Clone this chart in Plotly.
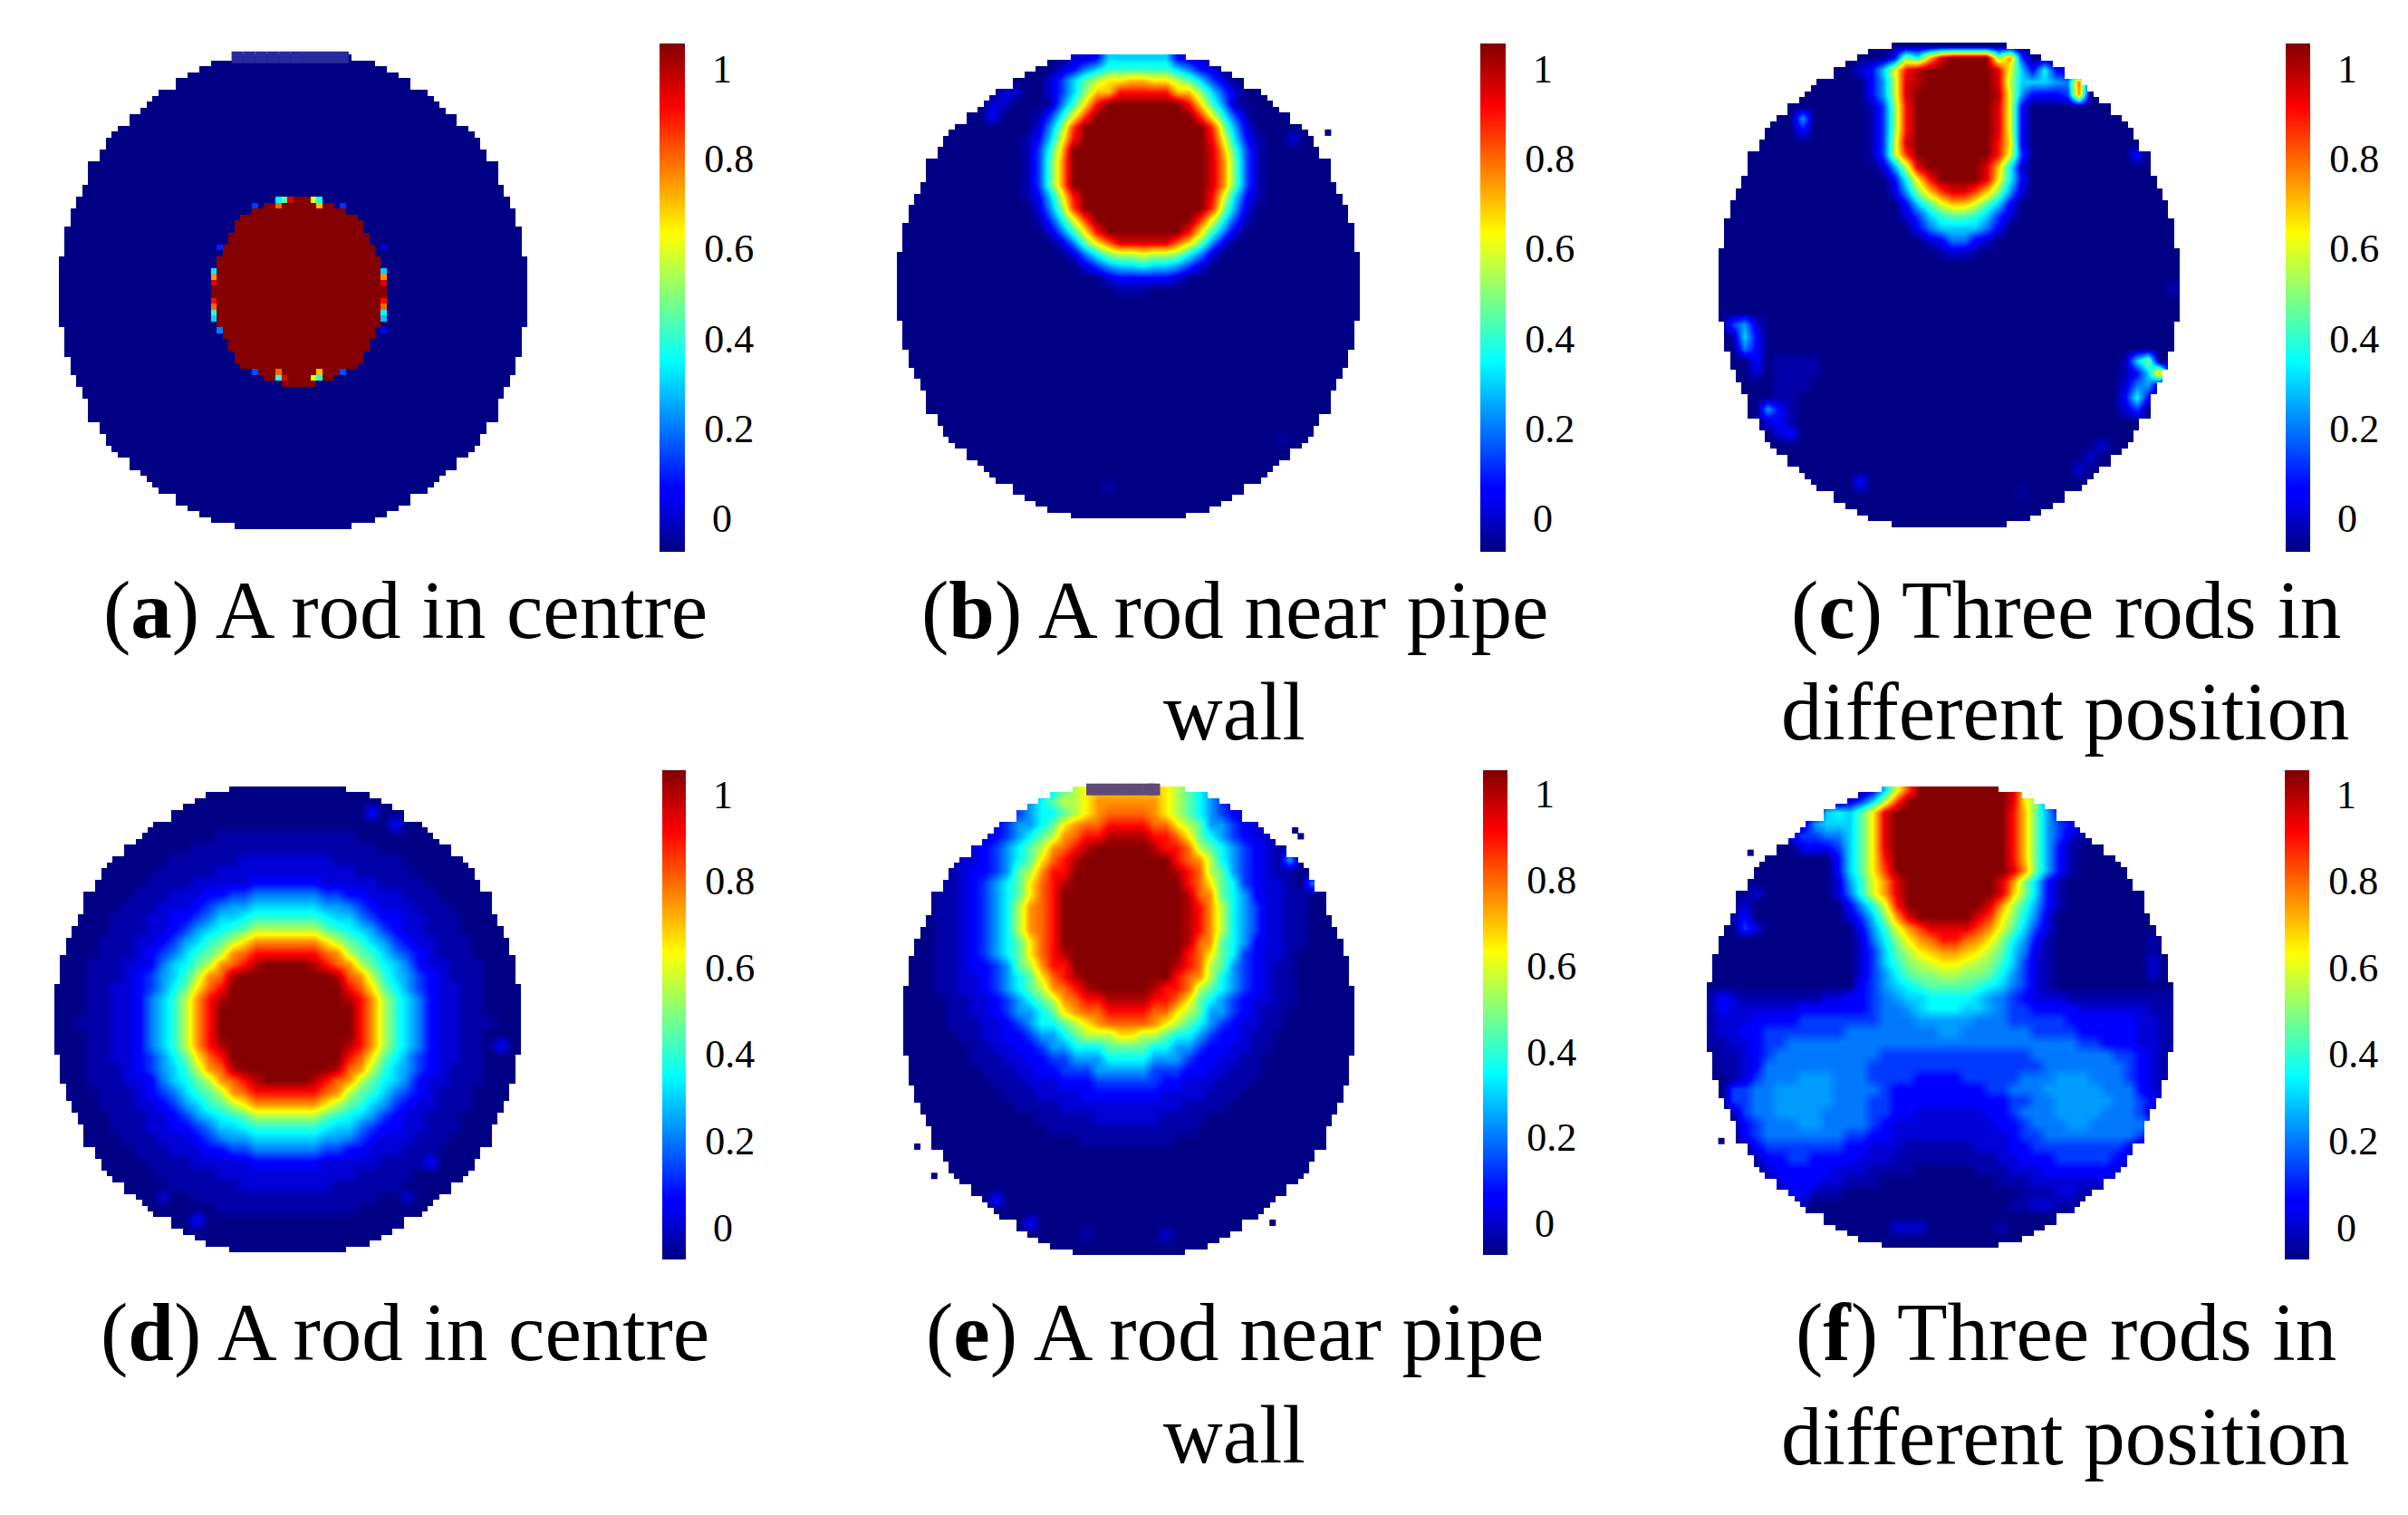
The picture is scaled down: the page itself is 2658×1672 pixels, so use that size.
import plotly.graph_objects as go

W, H = 2658, 1672
LEVELS = "0123456789abcdefghijklm"
LEVEL_VALUES = [-0.07, -0.035, 0.01, 0.06, 0.13, 0.2, 0.24, 0.3, 0.35, 0.4, 0.45, 0.5, 0.55, 0.6,
                0.65, 0.7, 0.75, 0.8, 0.85, 0.9, 0.95, 1.0, 1.05]
Z = "0" * 40

# Rows of read-off levels (one character per coarse cell, top to bottom).
PANEL_B = [
    "0000000000000002237777773220000000000000",
    "0000000000000023579999997532000000000000",
    "0000000000000247aceeffeeca74200000000000",
    "0000000002200247bffjjjjjffb7420000000000",
    "0000000022000159ejmmmmmmmje9510000000000",
    "000000003000148dimmmmmmmmmid841000000000",
    "00000000000026bimmmmmmmmmmmib62000000000",
    "00000000000137djmmmmmmmmmmmjd73100200000",
    "00000000000149fmmmmmmmmmmmmkf94100000000",
    "0000000000014agmmmmmmmmmmmmkga4100000000",
    "0000000000014agmmmmmmmmmmmmkga4100000000",
    "0000000000014agmmmmmmmmmmmmkga4100000000",
    "00000000000137djmmmmmmmmmmmjd73100000000",
    "00000000000026bimmmmmmmmmmmib62000000000",
    "000000000000148dimmmmmmmmmid841000000000",
    "0000000000000259ejmmmmmmmje9520000000000",
    "0000000000000025aehkkkkkhea5200000000000",
    "000000000000000258bccdccb852000000000000",
    "0000000000000000246778776420000000000000",
    "0000000000000000002333332000000000000000",
    "0000000000000000000111000000000000000000",
    Z, Z, Z, Z, Z, Z, Z, Z, Z, Z, Z, Z,
    "0000000000000000000000000000000001000000",
    Z, Z, Z,
    "0000000000000000001000000000000000000000",
    Z, Z,
]

PANEL_C = [
    Z,
    "0000000000000003b8fkmmmmbg40000000000000",
    "000000000000237djlmmmmmmkd73832000000000",
    "000000000000036cklmmmmmmkc77765h00000000",
    "000000000000036ckmmmmmmmld63334g00000000",
    "000000000000014bjmmmmmmmkd30000000000000",
    "000000060000014bjmmmmmmmkd30000000000000",
    "000000030000014bjmmmmmmmkd30000000000000",
    "000000000000014ckmmmmmmmje30000000000000",
    "000000000000014cimmmmmmmjd40000000003000",
    "0000000000000026ckmmmmmkf820000000000000",
    "00000000000000038ejmmmmke830000000000000",
    "00000000000000026bfikkifb620000000000000",
    "000000000000000037adffda7300000000000000",
    "00000000000000002479aa974200000000000000",
    "0000000000000000035777753000000000000000",
    "0000000000000000002355320000000000000000",
    "0000000000000000000122100000000000000000",
    Z, Z,
    "0000000000000000000000000000000000000001",
    Z, Z,
    "0462000000000000000000000000000000000000",
    "0173000000000000000000000000000000000000",
    "0053000000000000000000000000000000000000",
    "0003011110000000000000000000000000017b00",
    "00020111100000000000000000000000000137g0",
    "0000011100000000000000000000000000025610",
    "0000011000000000000000000000000000038300",
    "0000631000000000000000000000000000024000",
    "0000231000000000000000000000000000000000",
    "0000023000000000000000000000000000000000",
    "0000000000000000000000000000000002000000",
    "0000000000000000000000000000000020000000",
    "0000000000000000000000000000000200000000",
    "0000000000003000000000000000000000000000",
    "0000000000000000000000000010000000000000",
    Z, Z,
]

PANEL_D = [
    Z, Z,
    "0000000000000000000000000003000000000000",
    "0000000000000000000000000000030000000000",
    "0000000000000011111111111100000000000000",
    "0000000000001111111111111111000000000000",
    "0000000000111111222222221111110000000000",
    "0000000001111122222222222211111000000000",
    "0000000011112222233333322222111100000000",
    "0000000111222334455555544332221110000000",
    "0000001112223456677777766543222111000000",
    "0000011122334577899999987754332211100000",
    "0000011122346789acccccca9876432211100000",
    "00001112234679aceggggggeca97643221110000",
    "0000111234579acghjjjjjjhgca9754321110000",
    "000111223578acghjlmmmmljhgca875322111000",
    "000111234679cghlmmmmmmmmlhgc976432111000",
    "00011223468aehjmmmmmmmmmmjhea86432211000",
    "00011223579cgjlmmmmmmmmmmljgc97532211000",
    "00011223579cgjmmmmmmmmmmmmjgc97532211000",
    "00111223579cgjmmmmmmmmmmmmjgc97532211100",
    "00011223579cgjmmmmmmmmmmmmjgc97532211000",
    "00011223579cgjlmmmmmmmmmmljgc97532211030",
    "00011223468aehjmmmmmmmmmmjhea86432211000",
    "000111234679cghlmmmmmmmmlhgc976432111000",
    "000111223578acghjlmmmmljhgca875322111000",
    "0000111234579acghjjjjjjhgca9754321110000",
    "00001112234679aceggggggeca97643221110000",
    "0000011122346789acccccca9876432211100000",
    "0000011122334577899999987754332211100000",
    "0000001112223456677777766543222111000000",
    "0000000111222334455555544332221110000000",
    "0000000011112222233333322222111130000000",
    "0000000001111122222222222211111000000000",
    "0000000000111111222222221111110000000000",
    "0000000002001111111111111111002000000000",
    "0000000000000011111111111100000000000000",
    "0000000000003000000000000000000000000000",
    Z, Z,
]

PANEL_E = [
    "00000112233468aceffffffeca86432210000000",
    "0001122334668acceggggggeca86432211000000",
    "00001112234688aceghhhhgeca86432211000000",
    "0000112234668aeghhjjjjhheca6643211000000",
    "000011223468acghjjlllljjhea8643221100000",
    "00011223468acghjlmmmmmljjhca864321100000",
    "00011223468aehjlmmmmmmmmjhgc864321600000",
    "0001123346acgjjmmmmmmmmmljhca64321100000",
    "0001123468aehjlmmmmmmmmmmjhea84322105000",
    "0001123468aehjmmmmmmmmmmmlhga86322110000",
    "0001123468cghjmmmmmmmmmmmljgc86422110000",
    "0001123468cghjmmmmmmmmmmmljgc86422110000",
    "0001123468cghjmmmmmmmmmmmljgc86422110000",
    "0001123468aehjmmmmmmmmmmmlhga86322110000",
    "0001123468aehjlmmmmmmmmmmjhea84322100000",
    "0001123346acgjjmmmmmmmmmljhca64321100000",
    "00011223468aehjlmmmmmmmmjhgc864321100000",
    "00011223468acghjlmmmmmljjhca864321100000",
    "000011223468acghjjlllljjhea8643221100000",
    "0000112234668aeghhjjjjhheca6643211000000",
    "00001112234688aceghhhhgeca86432211000000",
    "000001122334668acccee" + "cca8864332110000000",
    "000000112233466888aaaa886643322110000000",
    "0000001112233446668888666433221100000000",
    "0000000111223344466666444332211100000000",
    "0000000011122233344444433222111000000000",
    "0000000001112222333333322221110000000000",
    "0000000000111122222222222111100000000000",
    "0000000000001111122222211110000000000000",
    "0000000000000111111111111100000000000000",
    "0000000000000000111111110000000000000000",
    Z, Z, Z, Z,
    "0000000030000000000000000000000000000000",
    Z,
    "0000000000030000000000000000000000000000",
    "0000000000000000100000020000000000000000",
    Z,
]

PANEL_F = [
    "0000000000000037dimmmmmmmmkfa00000000000",
    "000000000000247cimmmmmmmmmkeb42000000000",
    "0000000001787aekmmmmmmmmmmjfa63210000000",
    "0000000026777aekmmmmmmmmmmjfa64321000000",
    "0000000344557aekmmmmmmmmmmjfa64210000000",
    "0000000033347aekmmmmmmmmmmjfa63100000000",
    "0000000000037aejmmmmmmmmmmjfa63100000000",
    "0000000000037aeimmmmmmmmmmkga63100000000",
    "00000000000269dgkmmmmmmmmkgb731000000000",
    "00002000000259dgkmmmmmmmmkfb731000000000",
    "000200000000369djmmmmmmmkgc9631000000000",
    "001300000000247bgkmmmmmkieb8520000000000",
    "0004200000000369dgikkkkigda7420000000000",
    "0000000000000258beghjjhgeb86310000000010",
    "0000000000000247acefggfeca75210000000010",
    "00000000000002479bcdeedcb974210000000020",
    "00000000000002468abbccbba864210000000020",
    "0000000000000346789aaaa98754210000000000",
    "1321111111223345677888876543222111111111",
    "1322222233333345567888776544333322222211",
    "1222333344444445556666655544444333333221",
    "1223344444445555555566555555444433333221",
    "1122344555555555555555555555555544333221",
    "0112345555555554444444444444555555544321",
    "0112355555555544444444444444455555554321",
    "0012455566655544443333444445556665554321",
    "0044556666655554333333334455566666555321",
    "0044556666655544333333333344556666655432",
    "0014556666555544332222223345556666555421",
    "0013455566555543222222222334555665555542",
    "0003455555554433222222222234455555555431",
    "0000344444443322211111122233444444443100",
    "0000133443333222111111111223334444432000",
    "0000023333322211110000011122233333321000",
    "0000012333221110000000000111222222210000",
    "0000001331110000000000000001112211000000",
    "0000000010000000000000000011221100000000",
    "0000000000000000000000000000000022000000",
    "0000000000000000222000000100000000000000",
    Z,
]

# Panel (a) is read at full cell size: half-width of the solid rod per row.
ROD_FIRST_ROW = 24
ROD_HALF = [3, 6, 8, 10, 10.5, 11, 11.5, 12, 12.5, 13, 13.5, 14, 14, 14, 14, 14,
            14, 14, 14, 14, 14, 13.5, 13, 12.5, 12, 11.5, 11, 10.5, 10, 8, 6, 3]
ROD_CENTRE_COL = 41
ROD_SPECK_COLS = [37, 38, 39, 43, 44, 33, 37, 44, 48, 26, 26, 26, 26, 26, 26, 26, 26, 26,
                  55, 55, 55, 55, 55, 55, 55, 55, 55, 27, 55, 27, 55, 33, 48, 37, 38, 39, 43, 44, 37, 44]
ROD_SPECK_ROWS = [24, 24, 24, 24, 24, 25, 25, 25, 25, 36, 37, 38, 39, 40, 41, 42, 43, 44,
                  36, 37, 38, 39, 40, 41, 42, 43, 44, 32, 32, 46, 46, 53, 53, 54, 54, 54, 54, 54, 53, 53]
ROD_SPECK_VALS = [0.35, 0.45, 0.95, 0.6, 0.38, 0.13, 0.8, 0.7, 0.12, 0.33, 0.75, 0.95, 1.05, 1.05, 0.9, 0.8, 0.4, 0.3,
                  0.3, 0.75, 0.95, 1.05, 1.05, 0.9, 0.8, 0.35, 0.28, 0.1, 0.02, 0.2, 0.03, 0.15, 0.15,
                  0.4, 0.95, 1.05, 0.6, 0.4, 0.8, 0.7]

DISC_HALF_TOP = [10, 13.5, 16, 18, 19.5, 19.5, 23, 24, 25, 26, 27.5, 27.5, 29.5, 30.5, 31.5, 32, 33, 33,
                 34.5, 34.5, 35, 35, 36, 36, 37, 37, 38, 38, 38, 39, 39, 39, 39, 39]
DISC_HALF_MID = [40] * 12

# Stray pixels outside the discs (column, row in full-size cells).
SPECK_COLS = [[], [74], [], [], [69, 70, 2, 5, 65], [7, 2]]
SPECK_ROWS = [[], [13], [], [], [7, 8, 61, 66, 74], [11, 61]]

# Faint strips hugging the disc edges, read per panel.
STRIP_COLS = [[30, 32, 34, 36, 38, 40, 42, 44, 46, 48, 51],
              [37, 39, 41, 43, 45, 47, 49, 50],
              [37, 39, 41, 43, 45, 47, 48],
              [80, 80, 80, 80, 80, 80, 80],
              [33, 35, 37, 39, 41, 43, 44],
              []]
STRIP_ROWS = [[0, 0, 0, 0, 0, 0, 0, 0, 0, 0, 81],
              [80, 80, 80, 80, 80, 80, 80, 80],
              [-1, -1, -1, -1, -1, -1, -1],
              [33, 35, 37, 39, 41, 43, 45],
              [0, 0, 0, 0, 0, 0, 0],
              []]
STRIP_COLORS = ["#2a2aa0", "#7777cc", "#5f5fb0", "#3a3aa8", "#5f4a78", "#000088"]

PANEL_GRIDS = [None, PANEL_B, PANEL_C, PANEL_D, PANEL_E, PANEL_F]

# Panel boxes in picture pixels: left, right, top, bottom.
PANEL_X0 = [65, 990, 1897, 60, 997, 1884]
PANEL_X1 = [582, 1501, 2406, 575, 1495, 2399]
PANEL_Y0 = [60, 60, 47, 868, 868, 868]
PANEL_Y1 = [584, 572, 582, 1382, 1385, 1377]
BAR_X0 = [728, 1634, 2523, 731, 1637, 2522]
BAR_X1 = [756, 1662, 2550, 757, 1664, 2549]
BAR_Y0 = [48, 48, 48, 850, 850, 850]
BAR_Y1 = [609, 609, 609, 1390, 1385, 1390]

TICK_VALUES = [0, 0.2, 0.4, 0.6, 0.8, 1]
TICK_TEXT = ["\u20090", "0.2", "0.4", "0.6", "0.8", "\u20091"]
ZMIN, ZMAX = -0.075, 1.055
JET = [[0, "#000080"], [0.11, "#0000ff"], [0.125, "#0000ff"], [0.375, "#00ffff"],
       [0.625, "#ffff00"], [0.875, "#ff0000"], [1, "#800000"]]

CAPTION_TEXT = ["(<b>a</b>) A rod in centre", "(<b>b</b>) A rod near pipe", "wall",
                "(<b>c</b>) Three rods in", "different position",
                "(<b>d</b>) A rod in centre", "(<b>e</b>) A rod near pipe", "wall",
                "(<b>f</b>) Three rods in", "different position"]
CAPTION_X = [447, 1363, 1362, 2280, 2280, 447, 1363, 1362, 2280, 2280]
CAPTION_Y = [673, 673, 785, 673, 785, 1470, 1470, 1583, 1470, 1585]


def disc_half():
    return DISC_HALF_TOP + DISC_HALF_MID + DISC_HALF_TOP[::-1]


def decode(rows):
    out = []
    for row in rows:
        row = row.ljust(40, "0")[:40]
        vals = [LEVEL_VALUES[LEVELS.index(ch)] for ch in row]
        out.append(vals + vals[-1:])  # repeat the edge cell so the field reaches the panel border
    return out + out[-1:]


def panel_a_grid():
    half = disc_half()
    grid = []
    for r in range(80):
        grid.append([LEVEL_VALUES[0] if abs(c + 0.5 - 40) <= half[r] else None for c in range(80)])
    for i, h in enumerate(ROD_HALF):
        r = ROD_FIRST_ROW + i
        for c in range(80):
            if abs(c + 0.5 - ROD_CENTRE_COL) <= h:
                grid[r][c] = 1.05
    for c, r, v in zip(ROD_SPECK_COLS, ROD_SPECK_ROWS, ROD_SPECK_VALS):
        grid[r][c] = v
    return grid


def outside_mask():
    half = disc_half()
    return [[None if abs(c + 0.5 - 40) <= half[r] else 1 for c in range(80)] for r in range(80)]


fig = go.Figure()
layout_axes = {}
for i in range(6):
    sfx = "" if i == 0 else str(i + 1)
    xa, ya = "x" + sfx, "y" + sfx
    layout_axes["xaxis" + sfx] = dict(domain=[PANEL_X0[i] / W, PANEL_X1[i] / W], range=[0, 80],
                                      visible=False, anchor=ya, fixedrange=True)
    layout_axes["yaxis" + sfx] = dict(domain=[1 - PANEL_Y1[i] / H, 1 - PANEL_Y0[i] / H], range=[80, 0],
                                      visible=False, anchor=xa, fixedrange=True)
    cb = dict(x=BAR_X0[i] / W, xanchor="left", y=1 - BAR_Y1[i] / H, yanchor="bottom",
              len=(BAR_Y1[i] - BAR_Y0[i]) / H, lenmode="fraction",
              thickness=BAR_X1[i] - BAR_X0[i], thicknessmode="pixels",
              xpad=0, ypad=0, outlinewidth=0,
              tickmode="array", tickvals=TICK_VALUES, ticktext=TICK_TEXT,
              ticks="outside", ticklen=13, tickcolor="rgba(0,0,0,0)",
              tickfont=dict(family="Liberation Serif", size=44, color="#000"))
    if PANEL_GRIDS[i] is None:
        fig.add_trace(go.Heatmap(z=panel_a_grid(), x0=0.5, dx=1, y0=0.5, dy=1, xaxis=xa, yaxis=ya,
                                 zmin=ZMIN, zmax=ZMAX, colorscale=JET, colorbar=cb, hoverongaps=False))
    else:
        fig.add_trace(go.Heatmap(z=decode(PANEL_GRIDS[i]), x0=0.5, dx=2, y0=0.5, dy=2, xaxis=xa, yaxis=ya,
                                 zmin=ZMIN, zmax=ZMAX, colorscale=JET, colorbar=cb, zsmooth="best"))
        fig.add_trace(go.Heatmap(z=outside_mask(), x0=0.5, dx=1, y0=0.5, dy=1, xaxis=xa, yaxis=ya,
                                 zmin=0, zmax=1, colorscale=[[0, "#fff"], [1, "#fff"]], showscale=False))
    if STRIP_COLS[i]:
        fig.add_trace(go.Scatter(x=[c + 0.5 for c in STRIP_COLS[i]], y=[r + 0.5 for r in STRIP_ROWS[i]],
                                 mode="markers", xaxis=xa, yaxis=ya, showlegend=False, cliponaxis=False,
                                 marker=dict(symbol="square", size=13, color=STRIP_COLORS[i], line=dict(width=0))))
    if SPECK_COLS[i]:
        fig.add_trace(go.Scatter(x=[c + 0.5 for c in SPECK_COLS[i]], y=[r + 0.5 for r in SPECK_ROWS[i]],
                                 mode="markers", xaxis=xa, yaxis=ya, showlegend=False, cliponaxis=False,
                                 marker=dict(symbol="square", size=7, color="#000088", line=dict(width=0))))

annotations = [dict(text=t, x=x / W, y=1 - y / H, xref="paper", yref="paper", xanchor="center", yanchor="middle",
                    showarrow=False, font=dict(family="Liberation Serif", size=91, color="#000"))
               for t, x, y in zip(CAPTION_TEXT, CAPTION_X, CAPTION_Y)]

fig.update_layout(width=W, height=H, margin=dict(l=0, r=0, t=0, b=0), paper_bgcolor="#fff", plot_bgcolor="#fff",
                  showlegend=False, annotations=annotations, **layout_axes)
fig.write_html("out.html", post_script="document.body.style.margin='0';",
               config={"displayModeBar": False})
